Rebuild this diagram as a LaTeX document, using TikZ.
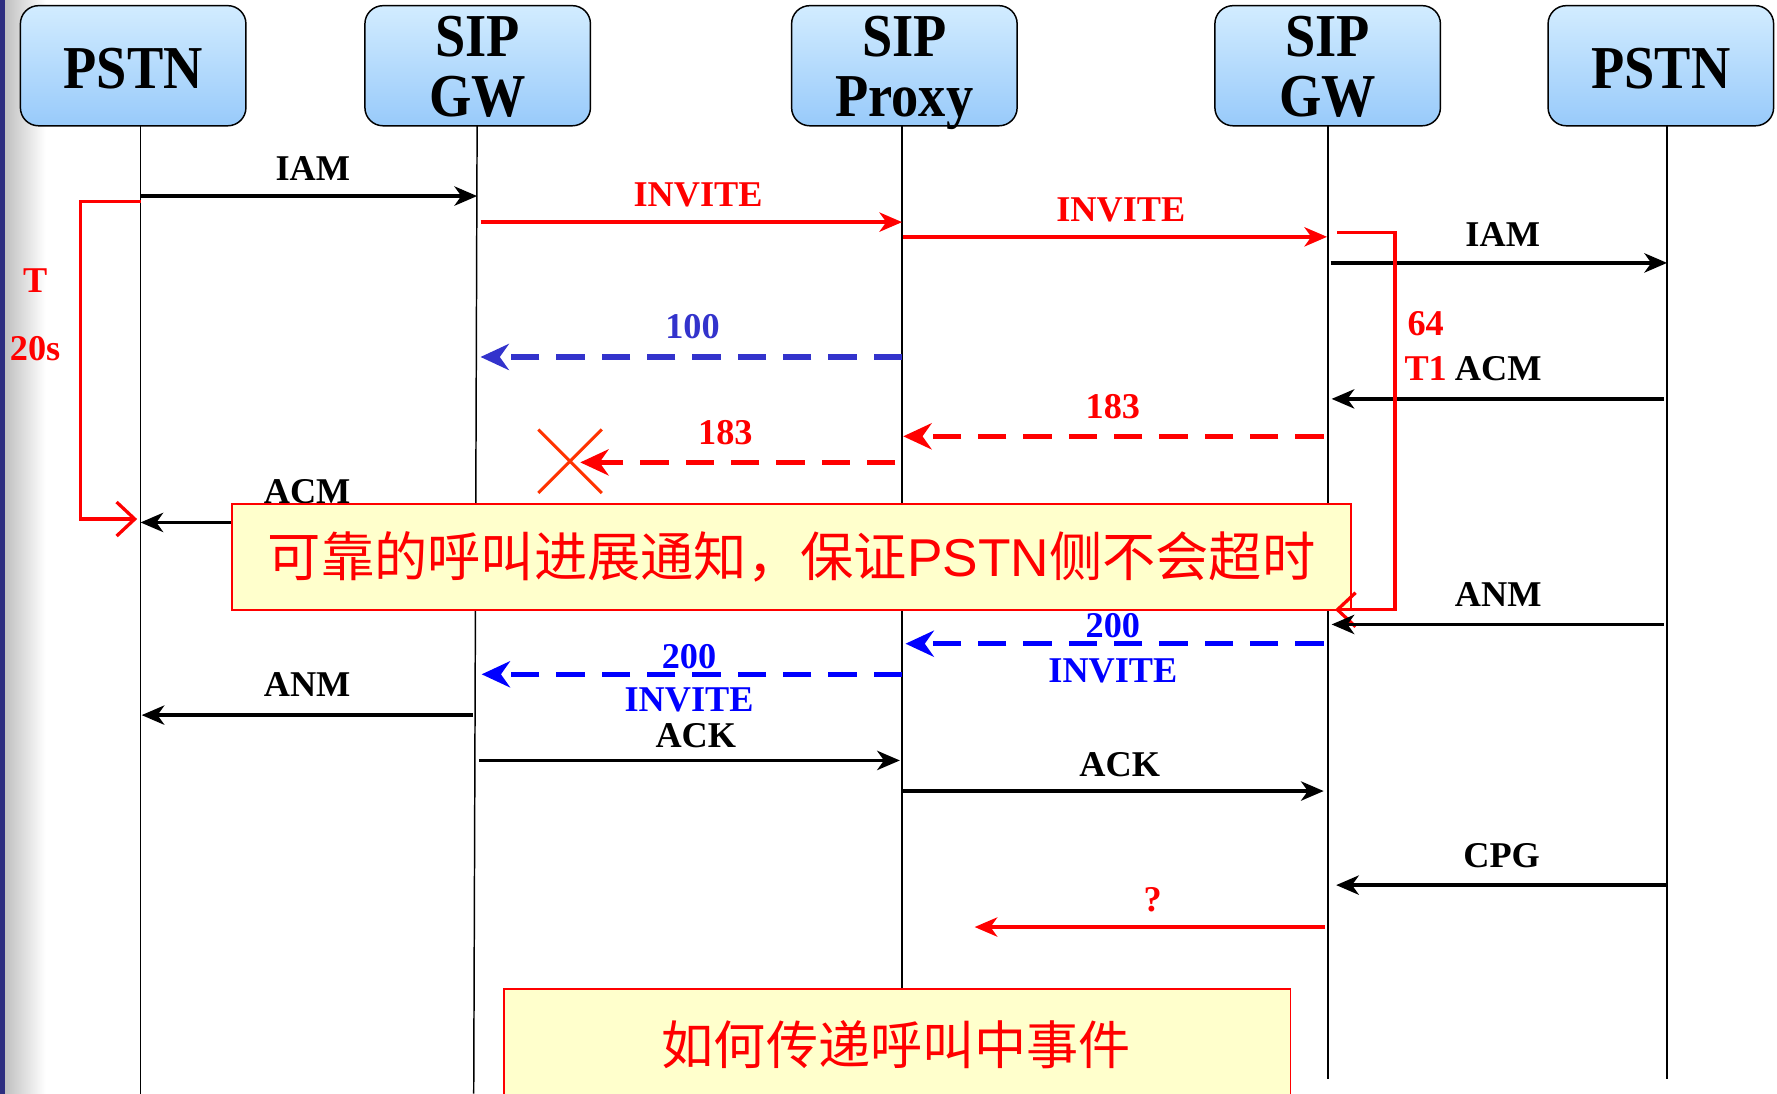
\documentclass[tikz,border=0pt]{standalone}
\usepackage{fontspec}
\usepackage{graphicx}
\setmainfont{Liberation Serif}
\newfontfamily\cjk{Noto Sans CJK SC}
\newfontfamily\arialf{Liberation Sans}
\usetikzlibrary{arrows.meta}
\definecolor{hdrtop}{HTML}{D2ECFF}
\definecolor{hdrbot}{HTML}{98CAFA}
\definecolor{navy}{HTML}{2E2E80}
\definecolor{blueA}{HTML}{3333CC}
\definecolor{blueB}{HTML}{0000FF}
\definecolor{xred}{HTML}{FF3300}
\definecolor{notefill}{HTML}{FFFFCC}
\newcommand\tallt[1]{\scalebox{1}[1.12]{#1}}
\begin{document}
\begin{tikzpicture}[x=1pt,y=-1pt,
  hdr/.style={draw=black, line width=1.3pt, rounded corners=16pt, top color=hdrtop, bottom color=hdrbot,
    minimum width=199pt, minimum height=106pt, inner sep=0pt},
  htxt/.style={anchor=base, inner sep=0pt, font=\fontsize{48}{48}\selectfont\bfseries},
  life/.style={line width=1.3pt, black},
  msg/.style={line width=3.1pt, -{Stealth[length=20pt,width=17pt,inset=6pt]}},
  dmsg/.style={line width=4.6pt, dash pattern=on 25pt off 15pt, -{Stealth[length=25pt,width=23pt,inset=8pt]}},
  lbl/.style={font=\fontsize{32}{32}\selectfont\bfseries, inner sep=0pt},
  timer/.style={red, line width=2.9pt, -{Straight Barb[length=16pt,width=30pt]}},
  notebox/.style={draw=red, line width=1.5pt, fill=notefill, inner sep=0pt, text=red},
  xline/.style={xred, line width=2.6pt}
]
\useasboundingbox (0,0) rectangle (1568,965);
\fill[white] (0,0) rectangle (1568,965);
\shade[left color=black!25, right color=white] (4,0) rectangle (40,965);
\fill[navy] (0,0) rectangle (4,965);

% headers
\node[hdr] (h1) at (117.5,58) {};
\node[hdr] (h2) at (421.5,58) {};
\node[hdr] (h3) at (798,58) {};
\node[hdr] (h4) at (1171.5,58) {};
\node[hdr] (h5) at (1465.5,58) {};
\node[htxt] (h1t) at (117.5,78) {\tallt{PSTN}};
\node[htxt] (h2a) at (421.5,50) {\tallt{SIP}};
\node[htxt] (h2b) at (421.5,103) {\tallt{GW}};
\node[htxt] (h3a) at (798,50) {\tallt{SIP}};
\node[htxt] (h3b) at (798,103) {\tallt{Proxy}};
\node[htxt] (h4a) at (1171.5,50) {\tallt{SIP}};
\node[htxt] (h4b) at (1171.5,103) {\tallt{GW}};
\node[htxt] (h5t) at (1465.5,78) {\tallt{PSTN}};

% lifelines
\coordinate (t1) at (124,111);  \coordinate (b1) at (124,965);
\coordinate (t2) at (421,111);  \coordinate (b2) at (418,965);
\coordinate (t3) at (796,111);  \coordinate (b3) at (796,965);
\coordinate (t4) at (1172,111); \coordinate (b4) at (1172,952);
\coordinate (t5) at (1471,111); \coordinate (b5) at (1471,952);
\draw[life] (t1) -- (b1);
\draw[life] (t2) -- (b2);
\draw[life] (t3) -- (b3);
\draw[life] (t4) -- (b4);
\draw[life] (t5) -- (b5);

% messages
\draw[msg] (t1 |- 0,173) -- (t2 |- 0,173);
\node[lbl] (lIAM1) at (276,149) {IAM};
\draw[msg, red, shorten <=3pt] (t2 |- 0,196) -- (t3 |- 0,196);
\node[lbl, red] (lINV1) at (616,172) {INVITE};
\draw[msg, red, shorten <=1pt, shorten >=1pt] (t3 |- 0,209) -- (t4 |- 0,209);
\node[lbl, red] (lINV2) at (989,185) {INVITE};
\draw[msg, shorten <=2pt] (t4 |- 0,232) -- (t5 |- 0,232);
\node[lbl] (lIAM2) at (1326,207) {IAM};
\draw[dmsg, blueA, shorten >=3pt] (t3 |- 0,315) -- (t2 |- 0,315);
\node[lbl, blueA] (l100) at (611,288) {100};
\draw[msg, shorten <=3pt, shorten >=3pt] (t5 |- 0,352) -- (t4 |- 0,352);
\node[lbl] (lACM2) at (1322,325) {ACM};
\node[lbl, red] (l64) at (1258,286) {64};
\node[lbl, red] (lT1) at (1258,325) {T1};
\draw[dmsg, red, shorten <=4pt, shorten >=1pt] (t4 |- 0,385) -- (t3 |- 0,385);
\node[lbl, red] (l183a) at (982,359) {183};
\coordinate (xm) at (503,407);
\draw[dmsg, red, shorten <=6pt, shorten >=9pt] (t3 |- 0,408) -- (xm |- 0,408);
\node[lbl, red] (l183b) at (640,382) {183};
\draw[xline] (xm) ++(-28,-28) -- ++(56,56);
\draw[xline] (xm) ++(-28,28) -- ++(56,-56);
\draw[msg] (t2 |- 0,461) -- (t1 |- 0,461);
\node[lbl] (lACM1) at (271,434) {ACM};

% timer left
\coordinate (tl1) at (71,178);
\coordinate (tl2) at (71,458);
\draw[timer, shorten >=3pt] (t1 |- 0,178) -- (tl1) -- (tl2) -- (t1 |- 0,458);
\node[lbl, red] (lT) at (31,248) {T};
\node[lbl, red] (l20) at (31,308) {20s};

% note 1
\node[notebox, minimum width=987pt, minimum height=93pt] (n1) at (698.5,491.5)
  {\fontsize{47}{47}\selectfont{\cjk 可靠的呼叫进展通知，保证}{\arialf PSTN}{\cjk 侧不会超时}};

% timer right
\coordinate (tr0) at (1180,205);
\coordinate (tr1) at (1231,205);
\coordinate (tr2) at (1231,538);
\coordinate (tr3) at (1178,538);
\draw[timer] (tr0) -- (tr1) -- (tr2) -- (tr3);

\draw[msg, shorten <=3pt, shorten >=3pt] (t5 |- 0,551) -- (t4 |- 0,551);
\node[lbl] (lANM2) at (1322,525) {ANM};
\draw[dmsg, blueB, shorten <=4pt, shorten >=3pt] (t4 |- 0,568) -- (t3 |- 0,568);
\node[lbl, blueB] (l200a) at (982,552) {200};
\node[lbl, blueB] (lINV3) at (982,592) {INVITE};
\draw[dmsg, blueB, shorten >=4pt] (t3 |- 0,595) -- (t2 |- 0,595);
\node[lbl, blueB] (l200b) at (608,579) {200};
\node[lbl, blueB] (lINV4) at (608,618) {INVITE};
\draw[msg, shorten <=4pt, shorten >=1pt] (t2 |- 0,631) -- (t1 |- 0,631);
\node[lbl] (lANM1) at (271,604) {ANM};
\draw[msg, shorten <=2pt, shorten >=2pt] (t2 |- 0,671) -- (t3 |- 0,671);
\node[lbl] (lACK1) at (614,649) {ACK};
\draw[msg, shorten >=4pt] (t3 |- 0,698) -- (t4 |- 0,698);
\node[lbl] (lACK2) at (988,675) {ACK};
\draw[msg, shorten >=7pt] (t5 |- 0,781) -- (t4 |- 0,781);
\node[lbl] (lCPG) at (1325,755) {CPG};
\coordinate (qend) at (860,818);
\draw[msg, red, shorten <=3pt] (t4 |- 0,818) -- (qend);
\node[lbl, red] (lq) at (1017,794) {?};

% note 2
\node[notebox, minimum width=694pt, minimum height=110pt, anchor=north west] (n2) at (444,872) {};
\node[text=red, inner sep=0pt, font=\fontsize{46}{46}\selectfont\cjk] (n2t) at (791,922) {如何传递呼叫中事件};
\end{tikzpicture}
\end{document}
